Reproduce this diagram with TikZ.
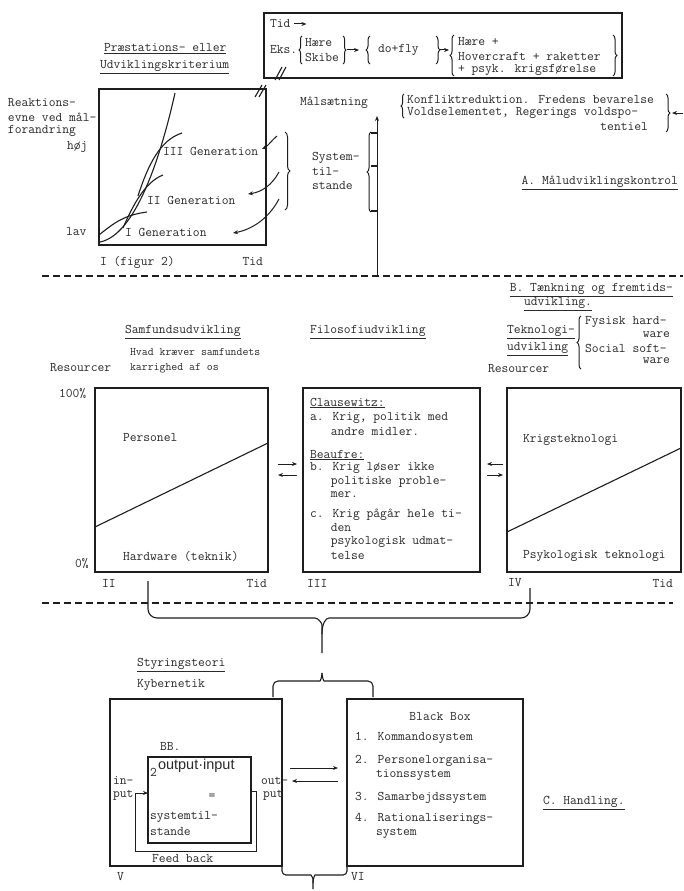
\documentclass[tikz,border=0pt]{standalone}
\usepackage{fontspec}
\newfontfamily\sansf{Liberation Sans}
\usetikzlibrary{arrows.meta,decorations.pathreplacing,calc}
\definecolor{ink}{HTML}{2A2A2A}
\definecolor{lncol}{HTML}{1E1E1E}
\newcommand{\tw}{\ttfamily\fontsize{13.2}{13.2}\selectfont}
\newcommand{\twsmall}{\ttfamily\fontsize{11.5}{12}\selectfont}
\tikzset{
  every node/.style={inner sep=0pt, outer sep=0pt, text=ink, font=\tw},
  tx/.style={anchor=west},
  txe/.style={anchor=east},
  box/.style={draw=lncol, line width=1.3pt},
  ln/.style={draw=lncol, line width=1.1pt},
  arr/.style={draw=lncol, line width=1pt, -{Stealth[length=5pt,width=4pt]}},
  dsh/.style={draw=lncol, line width=1.4pt, dash pattern=on 7pt off 4pt},
  brc/.style={draw=lncol, line width=1pt, decorate, decoration={brace, amplitude=#1}},
  brc/.default=4pt
}
\begin{document}
\begin{tikzpicture}[x=1pt,y=-1pt]
\fill[white] (0,0) rectangle (683,891);
\useasboundingbox (0,0) rectangle (683,891);

% ---------- top left: graph I ----------
\node[tx] (prae) at (104,49) {\underline{Præstations- eller}};
\node[tx] (udvk) at (100,67) {\underline{Udviklingskriterium}};

\node[box, minimum width=167, minimum height=156] (graph) at (182.5,167) {};
\node[tx] (rk1) at (8,103) {Reaktions-};
\node[tx] (rk2) at (8,117) {evne ved mål-};
\node[tx] (rk3) at (8,131) {forandring};
\node[tx] (hoej) at (67,147) {høj};
\node[tx] (lav) at (66,232) {lav};
\node[tx] (fig2) at (100,262) {I (figur 2)};
\node[txe] (tidg) at (263,262) {Tid};

\draw[ln] (100,242) .. controls (135,235) and (160,160) .. (175,93);
\draw[ln] (99,235) .. controls (115,222) and (125,215) .. (147,212);
\draw[ln] (123,228) .. controls (133,205) and (145,182) .. (163,175);
\draw[ln] (138,196) .. controls (148,165) and (160,140) .. (182,133);
\node[tx] (g3) at (163,151) {III Generation};
\node[tx] (g2) at (147,200) {II Generation};
\node[tx] (g1) at (125,232) {I Generation};

\draw[arr] (277,136) .. controls (272,140) and (268,146) .. (262,149);
\draw[arr] (279,172) .. controls (272,185) and (262,192) .. (248,194);
\draw[arr] (279,199) .. controls (268,220) and (250,230) .. (233,233);
\draw[brc=5pt] (285,132) -- (285,210);

% double slashes
\draw[ln] (275,80) -- (282,67); \draw[ln] (279,80) -- (286,67);
\draw[ln] (255,97) -- (262,85); \draw[ln] (259,97) -- (266,85);

% ---------- top box ----------
\node[box, minimum width=358, minimum height=65] (topbox) at (443,45.5) {};
\node[tx] (tid0) at (270,24) {Tid};
\draw[arr] ($(tid0.east)+(4,0)$) -- ++(12,0);
\node[tx] (eks) at (270,50) {Eks.};
\draw[brc=3pt] (302,64) -- (302,36);
\node[tx] (haere1) at (305,43) {Hære};
\node[tx] (skibe) at (305,57) {Skibe};
\draw[brc=3pt] (343,36) -- (343,64);
\draw[arr] (347,50) -- (359,50);
\draw[brc=4pt] (370,64) -- (370,36);
\node[tx] (dofly) at (378,50) {do+fly};
\draw[brc=4pt] (436,36) -- (436,64);
\draw[arr] (440,50) -- (449,50);
\draw[brc=4pt] (454,76) -- (454,35);
\node[tx] (haere2) at (458,42) {Hære +};
\node[tx] (hover) at (458,56) {Hovercraft + raketter};
\node[tx] (psyk) at (458,70) {+ psyk. krigsførelse};
\draw[brc=4pt] (613,35) -- (613,76);

% ---------- Maalsaetning ----------
\node[tx] (maal) at (300,103) {Målsætning};
\coordinate (vbase) at (377,276);
\coordinate (vtip) at (377,116);
\draw[arr] (vbase) -- (vtip);
\draw[brc=3pt] (404,118) -- (404,94);
\node[tx] (konf1) at (407,99) {Konfliktreduktion. Fredens bevarelse};
\node[tx] (konf2) at (407,113) {Voldselementet, Regerings voldspo-};
\node[txe] (konf3) at (648,127) {tentiel};
\draw[brc=4pt] (666,94) -- (666,132);
\coordinate (rarr) at (683,113);
\draw[arr] (rarr) -- (672,113);

\node[tx] (sys1) at (312,158) {System-};
\node[tx] (sys2) at (312,172) {til-};
\node[tx] (sys3) at (312,186) {stande};
\draw[brc=4pt] (371,212) -- (371,132);
\draw[ln] (371,133) -- (377,133);
\draw[ln] (371,166) -- (377,166);
\draw[ln] (371,211) -- (377,211);

\node[txe] (maalk) at (678,183) {\underline{A. Måludviklingskontrol}};

\draw[dsh] (42,276) -- (683,276);

% ---------- header row B ----------
\node[txe] (bt1) at (673,290) {\underline{B. Tænkning og fremtids-}};
\node[tx] (bt2) at (524,304) {\underline{udvikling.}};
\node[tx] (samf) at (125,332) {\underline{Samfundsudvikling}};
\node[tx] (filo) at (310,332) {\underline{Filosofiudvikling}};
\node[tx] (tek1) at (507,332) {\underline{Teknologi-}};
\node[tx] (tek2) at (507,349) {\underline{udvikling}};
\draw[brc=4pt] (581,369) -- (581,316);
\node[tx] (fys) at (585,322) {Fysisk hard-};
\node[txe] (ware1) at (670,335) {ware};
\node[tx] (soc) at (585,348) {Social soft-};
\node[txe] (ware2) at (670,361) {ware};
\node[tx, font=\twsmall] (hvad) at (130,352) {Hvad kræver samfundets};
\node[tx, font=\twsmall] (karr) at (130,368) {karrighed af os};
\node[tx] (res1) at (50,368) {Resourcer};
\node[tx] (res2) at (488,369) {Resourcer};

% ---------- three boxes ----------
\node[box, minimum width=173, minimum height=184] (bL) at (181.5,480) {};
\node[box, minimum width=177, minimum height=184] (bM) at (391.5,480) {};
\node[box, minimum width=174, minimum height=184] (bR) at (594,480) {};

\node[tx] (p100) at (59,393) {100\%};
\node[tx] (p0) at (75,563) {0\%};
\node[tx] (pers) at (123,438) {Personel};
\draw[ln] ($(bL.south west)+(0,-45)$) -- ($(bL.south east)+(0,-129)$);
\node[tx] (hard) at (123,556) {Hardware (teknik)};
\node[tx] (lII) at (102,583) {II};
\node[txe] (tidL) at (267,583) {Tid};

\node[tx] (mt1) at (310,403) {\underline{Clausewitz:}};
\node[tx] (mt2) at (310,418) {a. Krig, politik med};
\node[tx] (mt3) at (310,432) {\hspace{20.8pt}andre midler.};
\node[tx] (mt4) at (310,455) {\underline{Beaufre:}};
\node[tx] (mt5) at (310,468) {b. Krig løser ikke};
\node[tx] (mt6) at (310,482) {\hspace{20.8pt}politiske proble-};
\node[tx] (mt7) at (310,495) {\hspace{20.8pt}mer.};
\node[tx] (mt8) at (310,515) {c. Krig pågår hele ti-};
\node[tx] (mt9) at (310,528) {\hspace{20.8pt}den};
\node[tx] (mt10) at (310,542) {\hspace{20.8pt}psykologisk udmat-};
\node[tx] (mt11) at (310,555) {\hspace{20.8pt}telse};
\node[tx] (lIII) at (307,583) {III};

\node[tx] (krig) at (523,440) {Krigsteknologi};
\draw[ln] ($(bR.south west)+(0,-40)$) -- ($(bR.south east)+(0,-124)$);
\node[tx] (psyt) at (523,556) {Psykologisk teknologi};
\node[tx] (lIV) at (508,583) {IV};
\node[txe] (tidR) at (673,583) {Tid};

\draw[arr] ($(bL.east)+(10,-16)$) -- ($(bM.west)+(-6,-16)$);
\draw[arr] ($(bM.west)+(-6,-5)$) -- ($(bL.east)+(10,-5)$);
\draw[arr] ($(bR.west)+(-4,-16)$) -- ($(bM.east)+(7,-16)$);
\draw[arr] ($(bM.east)+(7,-5)$) -- ($(bR.west)+(-4,-5)$);

\draw[dsh] (42,603) -- (673,603);

% ---------- big brace ----------
\coordinate (bbl) at (148,581);
\coordinate (bbr) at (530,588);
\coordinate (bbt) at (322,653);
\draw[ln, rounded corners=9pt] (bbl) |- (306,618) .. controls (318,618) and (322,623) .. (322,634) -- (bbt);
\draw[ln, rounded corners=9pt] (bbr) |- (338,618) .. controls (326,618) and (322,623) .. (322,634);

% ---------- bottom ----------
\node[tx] (styr) at (137,665) {\underline{Styringsteori}};
\node[tx] (kyb) at (137,685) {Kybernetik};

\draw[ln, rounded corners=5pt] (273,697) |- (315,681) .. controls (320,681) and (322,678) .. (322,673);
\draw[ln, rounded corners=5pt] (373,697) |- (329,681) .. controls (324,681) and (322,678) .. (322,673);

\node[box, minimum width=172, minimum height=167] (bV) at (196,782.5) {};
\node[box, minimum width=176, minimum height=167] (bVI) at (435,782.5) {};

\node[tx] (bbtx) at (160,746) {BB.};
\node[box, line width=1.1pt, minimum width=103, minimum height=86] (bb) at (199.5,800) {};
\node[tx] (two) at (150,772) {2};
\node[tx, font=\sansf\fontsize{14.5}{15}\selectfont] (oi) at (158,766) {output·input};
\node (eq) at (212,797) {=};
\node[tx] (st1) at (150,817) {systemtil-};
\node[tx] (st2) at (150,831) {stande};
\node[tx] (in1) at (113,781) {in-};
\node[tx] (in2) at (113,795) {put};
\node[tx] (out1) at (261,781) {out-};
\node[tx] (out2) at (263,795) {put};
\draw[arr] (bb.east |- 0,791) -- (256,791) -- (256,851) -- (135,851) -- (135,793) -- (bb.west |- 0,793);
\node[tx] (fb) at (152,858) {Feed back};
\node[tx] (lV) at (117,877) {V};
\node[tx] (lVI) at (351,877) {VI};

\draw[arr] ($(bV.east)+(8,-14.5)$) -- ($(bVI.west)+(-9,-14.5)$);
\draw[arr] ($(bVI.west)+(-9,-1.5)$) -- ($(bV.east)+(10,-1.5)$);

\draw[ln, rounded corners=4pt] (bV.south east) |- (307,875) .. controls (311,875) and (313,878) .. (313,883) -- (313,889);
\draw[ln, rounded corners=4pt] (bVI.south west) |- (319,875) .. controls (315,875) and (313,878) .. (313,883);

\node (bbox) at (440,716) {Black Box};
\node[tx] (k1) at (355,738) {1. Kommandosystem};
\node[tx] (k2) at (355,761) {2. Personelorganisa-};
\node[tx] (k2b) at (376,775) {tionssystem};
\node[tx] (k3) at (355,798) {3. Samarbejdssystem};
\node[tx] (k4) at (355,819) {4. Rationaliserings-};
\node[tx] (k4b) at (376,833) {system};
\node[tx] (hand) at (543,803) {\underline{C. Handling.}};
\end{tikzpicture}
\end{document}
